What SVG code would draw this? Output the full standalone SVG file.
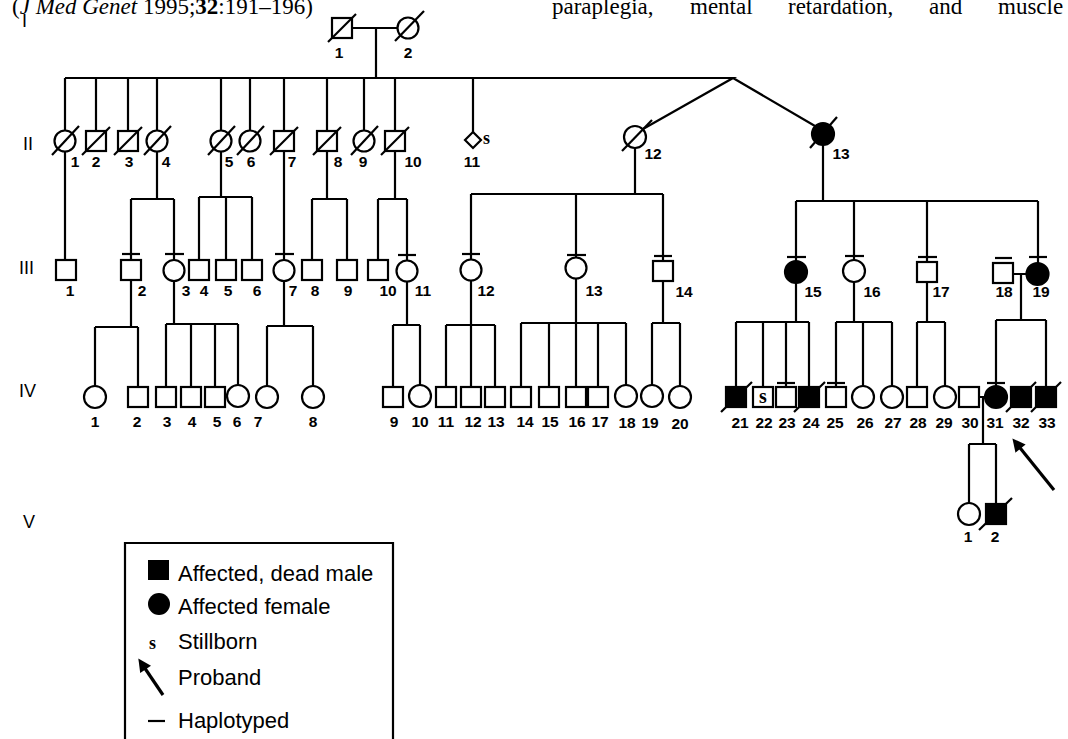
<svg xmlns="http://www.w3.org/2000/svg" width="1068" height="739" viewBox="0 0 1068 739">
<style>
.l{stroke:#000;stroke-width:2.2;fill:none}
.o{fill:#fff;stroke:#000;stroke-width:2.2}
.f{fill:#000;stroke:#000;stroke-width:2.2}
.n{font-family:'Liberation Sans',Arial,sans-serif;font-size:15.5px;font-weight:bold;text-anchor:middle;fill:#000}
.g{font-family:'Liberation Sans',Arial,sans-serif;font-size:18px;fill:#000}
.s{font-family:'Liberation Serif','Times New Roman',serif;font-weight:bold;fill:#000}
.t{font-family:'Liberation Serif','Times New Roman',serif;font-size:23px;fill:#000}
.lg{font-family:'Liberation Sans',Arial,sans-serif;font-size:22px;fill:#000}
.ar{stroke:#000;stroke-width:3.2;fill:none}
</style>
<defs>
<marker id="ah" viewBox="0 0 10 10" refX="4" refY="5" markerWidth="14" markerHeight="13" markerUnits="userSpaceOnUse" orient="auto">
<path d="M0,0 L10,5 L0,10 z" fill="#000"/>
</marker>
</defs>
<rect width="1068" height="739" fill="#fff"/>

<text class="t" x="12" y="14">(<tspan font-style="italic">J Med Genet</tspan> 1995;<tspan font-weight="bold">32</tspan>:191–196)</text>
<text class="t" y="14"><tspan x="552">paraplegia,</tspan><tspan x="690">mental</tspan><tspan x="788">retardation,</tspan><tspan x="929">and</tspan><tspan x="998">muscle</tspan></text>

<g id="generations">
<text class="g" x="22" y="27">I</text>
<text class="g" x="23" y="150">II</text>
<text class="g" x="19" y="274">III</text>
<text class="g" x="19" y="397">IV</text>
<text class="g" x="23" y="528">V</text>
</g>

<g id="connectors">
<path class="l" d="M352,28 H397.5 M376,28 V78 M65,78 H733 L643,129 M733,78 L815,126"/>
<path class="l" d="M65,78 V130.5 M96,78 V131 M128,78 V131 M157,78 V130.5 M221,78 V130.5 M250,78 V130.5 M284,78 V131 M327,78 V131 M364,78 V130.5 M395,78 V131 M473,78 V132"/>
<path class="l" d="M65,151.5 V260 M157,151.5 V199 M131,199 H174 M131,199 V260 M174,199 V260 M221,151.5 V197 M199,197 H252 M199,197 V260 M226,197 V260 M252,197 V260 M284,151 V260 M327,151 V199 M312,199 H347 M312,199 V260 M347,199 V260 M395,151 V199 M378,199 H407 M378,199 V260 M407,199 V260.5"/>
<path class="l" d="M635,148 V194 M471,194 H663 M471,194 V259.5 M576,194 V257.5 M663,194 V261 M823,145 V201 M796,201 H1038 M796,201 V261 M854,201 V260 M927,201 V262 M1038,201 V263"/>
<path class="l" d="M1013,274 H1026.5 M1021,274 V320 M996,320 H1046 M996,320 V386 M1046,320 V387"/>
<path class="l" d="M131,280 V327 M95,327 H138 M95,327 V386 M138,327 V387 M174,281 V324 M166,324 H238 M166,324 V387 M191,324 V387 M215,324 V387 M238,324 V385 M284,281 V326 M267,326 H313 M267,326 V386 M313,326 V386 M407,281.5 V325 M393,325 H420 M393,325 V387 M420,325 V385 M471,280.5 V325 M446,325 H495 M446,325 V387 M471,325 V387 M495,325 V387 M576,278.5 V323 M521,323 H626 M521,323 V387 M549,323 V387 M576,323 V387 M598,323 V387 M626,323 V385 M663,281 V323 M652,323 H680 M652,323 V385 M680,323 V386"/>
<path class="l" d="M796,283 V322 M736,322 H809 M736,322 V387 M763,322 V387 M786,322 V387 M809,322 V387 M854,282 V322 M836,322 H892 M836,322 V387 M863,322 V386 M892,322 V386 M927,282 V322 M917,322 H945 M917,322 V387 M945,322 V386"/>
<path class="l" d="M979,397 H985 M983,397 V444 M969,444 H996 M969,444 V503 M996,444 V504"/>
</g>

<g id="I-1"><rect class="o" x="332" y="18" width="20" height="20"/><line class="l" x1="328" y1="42" x2="356" y2="14"/><text class="n" x="339" y="58">1</text></g>
<g id="I-2"><circle class="o" cx="408" cy="28" r="10.5"/><line class="l" x1="395" y1="41" x2="424" y2="11"/><text class="n" x="408" y="58">2</text></g>

<g id="II-1"><circle class="o" cx="65" cy="141" r="10.5"/><line class="l" x1="52" y1="155" x2="79" y2="126"/><text class="n" x="75" y="167">1</text></g>
<g id="II-2"><rect class="o" x="86" y="131" width="20" height="20"/><line class="l" x1="82" y1="155" x2="110" y2="127"/><text class="n" x="96" y="167">2</text></g>
<g id="II-3"><rect class="o" x="118" y="131" width="20" height="20"/><line class="l" x1="114" y1="155" x2="142" y2="127"/><text class="n" x="129" y="167">3</text></g>
<g id="II-4"><circle class="o" cx="157" cy="141" r="10.5"/><line class="l" x1="144" y1="155" x2="171" y2="126"/><text class="n" x="166" y="167">4</text></g>
<g id="II-5"><circle class="o" cx="221" cy="141" r="10.5"/><line class="l" x1="208" y1="155" x2="235" y2="126"/><text class="n" x="229" y="167">5</text></g>
<g id="II-6"><circle class="o" cx="250" cy="141" r="10.5"/><line class="l" x1="237" y1="155" x2="264" y2="126"/><text class="n" x="251" y="167">6</text></g>
<g id="II-7"><rect class="o" x="274" y="131" width="20" height="20"/><line class="l" x1="270" y1="155" x2="298" y2="127"/><text class="n" x="292" y="167">7</text></g>
<g id="II-8"><rect class="o" x="317" y="131" width="20" height="20"/><line class="l" x1="313" y1="155" x2="341" y2="127"/><text class="n" x="338" y="167">8</text></g>
<g id="II-9"><circle class="o" cx="364" cy="141" r="10.5"/><line class="l" x1="351" y1="155" x2="378" y2="126"/><text class="n" x="363" y="167">9</text></g>
<g id="II-10"><rect class="o" x="385" y="131" width="20" height="20"/><line class="l" x1="381" y1="155" x2="409" y2="127"/><text class="n" x="413" y="167">10</text></g>
<g id="II-11"><path class="o" d="M473,132 L481,140 L473,148 L465,140 Z"/><text class="s" x="483" y="144" font-size="18">s</text><text class="n" x="472" y="167">11</text></g>
<g id="II-12"><circle class="o" cx="635" cy="137" r="11"/><line class="l" x1="622" y1="151" x2="652" y2="120"/><text class="n" x="653" y="159">12</text></g>
<g id="II-13"><circle class="f" cx="823" cy="134" r="11"/><line class="l" x1="810" y1="148" x2="837" y2="117"/><text class="n" x="841" y="159">13</text></g>

<g id="III-1"><rect class="o" x="56" y="260" width="20" height="20"/><text class="n" x="70" y="296">1</text></g>
<g id="III-2"><line class="l" x1="122" y1="254" x2="140" y2="254"/><rect class="o" x="121" y="260" width="20" height="20"/><text class="n" x="142" y="296">2</text></g>
<g id="III-3"><line class="l" x1="165" y1="254" x2="184" y2="254"/><circle class="o" cx="174" cy="270.5" r="10.5"/><text class="n" x="186" y="296">3</text></g>
<g id="III-4"><rect class="o" x="189" y="260" width="20" height="20"/><text class="n" x="204" y="296">4</text></g>
<g id="III-5"><rect class="o" x="216" y="260" width="20" height="20"/><text class="n" x="228" y="296">5</text></g>
<g id="III-6"><rect class="o" x="242" y="260" width="20" height="20"/><text class="n" x="257" y="296">6</text></g>
<g id="III-7"><line class="l" x1="275" y1="254" x2="294" y2="254"/><circle class="o" cx="284" cy="270.5" r="10.5"/><text class="n" x="293" y="296">7</text></g>
<g id="III-8"><rect class="o" x="302" y="260" width="20" height="20"/><text class="n" x="315" y="296">8</text></g>
<g id="III-9"><rect class="o" x="337" y="260" width="20" height="20"/><text class="n" x="348" y="296">9</text></g>
<g id="III-10"><rect class="o" x="368" y="260" width="20" height="20"/><text class="n" x="388" y="296">10</text></g>
<g id="III-11"><line class="l" x1="398" y1="255" x2="416" y2="255"/><circle class="o" cx="407" cy="271" r="10.5"/><text class="n" x="423" y="296">11</text></g>
<g id="III-12"><line class="l" x1="462" y1="254" x2="480" y2="254"/><circle class="o" cx="471" cy="270" r="10.5"/><text class="n" x="486" y="296">12</text></g>
<g id="III-13"><line class="l" x1="567" y1="255" x2="586" y2="255"/><circle class="o" cx="576" cy="268" r="10.5"/><text class="n" x="594" y="296">13</text></g>
<g id="III-14"><line class="l" x1="654" y1="256" x2="672" y2="256"/><rect class="o" x="653" y="261" width="20" height="20"/><text class="n" x="684" y="297">14</text></g>
<g id="III-15"><line class="l" x1="787" y1="257" x2="806" y2="257"/><circle class="f" cx="796" cy="272" r="11"/><text class="n" x="813" y="297">15</text></g>
<g id="III-16"><line class="l" x1="845" y1="256" x2="864" y2="256"/><circle class="o" cx="854" cy="271" r="11"/><text class="n" x="872" y="297">16</text></g>
<g id="III-17"><line class="l" x1="918" y1="257" x2="937" y2="257"/><rect class="o" x="917" y="262" width="20" height="20"/><text class="n" x="941" y="297">17</text></g>
<g id="III-18"><line class="l" x1="995" y1="258" x2="1012" y2="258"/><rect class="o" x="993" y="263" width="20" height="20"/><text class="n" x="1004" y="297">18</text></g>
<g id="III-19"><line class="l" x1="1029" y1="257" x2="1047" y2="257"/><circle class="f" cx="1037.5" cy="274" r="11"/><text class="n" x="1041" y="297">19</text></g>

<g id="IV-1"><circle class="o" cx="95" cy="397" r="11"/><text class="n" x="95" y="427">1</text></g>
<g id="IV-2"><rect class="o" x="128" y="387" width="20" height="20"/><text class="n" x="137" y="427">2</text></g>
<g id="IV-3"><rect class="o" x="156" y="387" width="20" height="20"/><text class="n" x="167" y="427">3</text></g>
<g id="IV-4"><rect class="o" x="181" y="387" width="20" height="20"/><text class="n" x="192" y="427">4</text></g>
<g id="IV-5"><rect class="o" x="205" y="387" width="20" height="20"/><text class="n" x="217" y="427">5</text></g>
<g id="IV-6"><circle class="o" cx="238" cy="396" r="11"/><text class="n" x="237" y="427">6</text></g>
<g id="IV-7"><circle class="o" cx="267" cy="397" r="11"/><text class="n" x="258" y="427">7</text></g>
<g id="IV-8"><circle class="o" cx="313" cy="397" r="11"/><text class="n" x="313" y="427">8</text></g>
<g id="IV-9"><rect class="o" x="383" y="387" width="20" height="20"/><text class="n" x="394" y="427">9</text></g>
<g id="IV-10"><circle class="o" cx="420" cy="396" r="11"/><text class="n" x="420" y="427">10</text></g>
<g id="IV-11"><rect class="o" x="436" y="387" width="20" height="20"/><text class="n" x="446" y="427">11</text></g>
<g id="IV-12"><rect class="o" x="461" y="387" width="20" height="20"/><text class="n" x="473" y="427">12</text></g>
<g id="IV-13"><rect class="o" x="485" y="387" width="20" height="20"/><text class="n" x="496" y="427">13</text></g>
<g id="IV-14"><rect class="o" x="511" y="387" width="20" height="20"/><text class="n" x="525" y="427">14</text></g>
<g id="IV-15"><rect class="o" x="539" y="387" width="20" height="20"/><text class="n" x="550" y="427">15</text></g>
<g id="IV-16"><rect class="o" x="566" y="387" width="20" height="20"/><text class="n" x="577" y="427">16</text></g>
<g id="IV-17"><rect class="o" x="588" y="387" width="20" height="20"/><text class="n" x="600" y="427">17</text></g>
<g id="IV-18"><circle class="o" cx="626" cy="396" r="11"/><text class="n" x="627" y="428">18</text></g>
<g id="IV-19"><circle class="o" cx="652" cy="396" r="11"/><text class="n" x="650" y="428">19</text></g>
<g id="IV-20"><circle class="o" cx="680" cy="397" r="11"/><text class="n" x="680" y="429">20</text></g>
<g id="IV-21"><rect class="f" x="726" y="387" width="20" height="20"/><line class="l" x1="721" y1="412" x2="752" y2="382"/><text class="n" x="740" y="428">21</text></g>
<g id="IV-22"><rect class="o" x="753" y="387" width="20" height="20"/><text class="s" x="763" y="403" font-size="20" text-anchor="middle">s</text><text class="n" x="764" y="428">22</text></g>
<g id="IV-23"><line class="l" x1="777" y1="383" x2="795" y2="383"/><rect class="o" x="776" y="387" width="20" height="20"/><text class="n" x="787" y="428">23</text></g>
<g id="IV-24"><rect class="f" x="799" y="387" width="20" height="20"/><line class="l" x1="794" y1="412" x2="825" y2="382"/><text class="n" x="811" y="428">24</text></g>
<g id="IV-25"><line class="l" x1="827" y1="383" x2="845" y2="383"/><rect class="o" x="826" y="387" width="20" height="20"/><text class="n" x="835" y="428">25</text></g>
<g id="IV-26"><circle class="o" cx="863" cy="397" r="11"/><text class="n" x="865" y="428">26</text></g>
<g id="IV-27"><circle class="o" cx="892" cy="397" r="11"/><text class="n" x="893" y="428">27</text></g>
<g id="IV-28"><rect class="o" x="907" y="387" width="20" height="20"/><text class="n" x="918" y="428">28</text></g>
<g id="IV-29"><circle class="o" cx="945" cy="397" r="11"/><text class="n" x="944" y="428">29</text></g>
<g id="IV-30"><rect class="o" x="959" y="387" width="20" height="20"/><text class="n" x="970" y="428">30</text></g>
<g id="IV-31"><line class="l" x1="987" y1="383" x2="1005" y2="383"/><circle class="f" cx="996" cy="397" r="11"/><text class="n" x="995" y="428">31</text></g>
<g id="IV-32"><rect class="f" x="1011" y="387" width="20" height="20"/><line class="l" x1="1006" y1="412" x2="1036" y2="382"/><text class="n" x="1021" y="428">32</text></g>
<g id="IV-33"><rect class="f" x="1036" y="387" width="20" height="20"/><line class="l" x1="1031" y1="412" x2="1061" y2="382"/><text class="n" x="1047" y="428">33</text></g>

<g id="V-1"><circle class="o" cx="969" cy="514" r="11"/><text class="n" x="968" y="542">1</text></g>
<g id="V-2"><rect class="f" x="986" y="504" width="20" height="20"/><line class="l" x1="979" y1="530" x2="1012" y2="498"/><text class="n" x="995" y="542">2</text></g>

<g id="proband-arrow"><line class="ar" x1="1054" y1="490" x2="1017.3" y2="444.5" marker-end="url(#ah)"/></g>

<g id="legend">
<path class="l" d="M125,739 V543 H393 V739"/>
<rect x="148" y="560" width="21" height="20" fill="#000"/>
<text class="lg" x="178" y="581">Affected, dead male</text>
<circle cx="159" cy="604" r="11" fill="#000"/>
<text class="lg" x="178" y="614">Affected female</text>
<text class="s" x="149" y="649" font-size="18">s</text>
<text class="lg" x="178" y="649">Stillborn</text>
<line class="ar" x1="163" y1="695" x2="142.7" y2="665" marker-end="url(#ah)"/>
<text class="lg" x="178" y="685">Proband</text>
<line class="l" x1="148" y1="721" x2="165" y2="721"/>
<text class="lg" x="178" y="728">Haplotyped</text>
</g>
</svg>
